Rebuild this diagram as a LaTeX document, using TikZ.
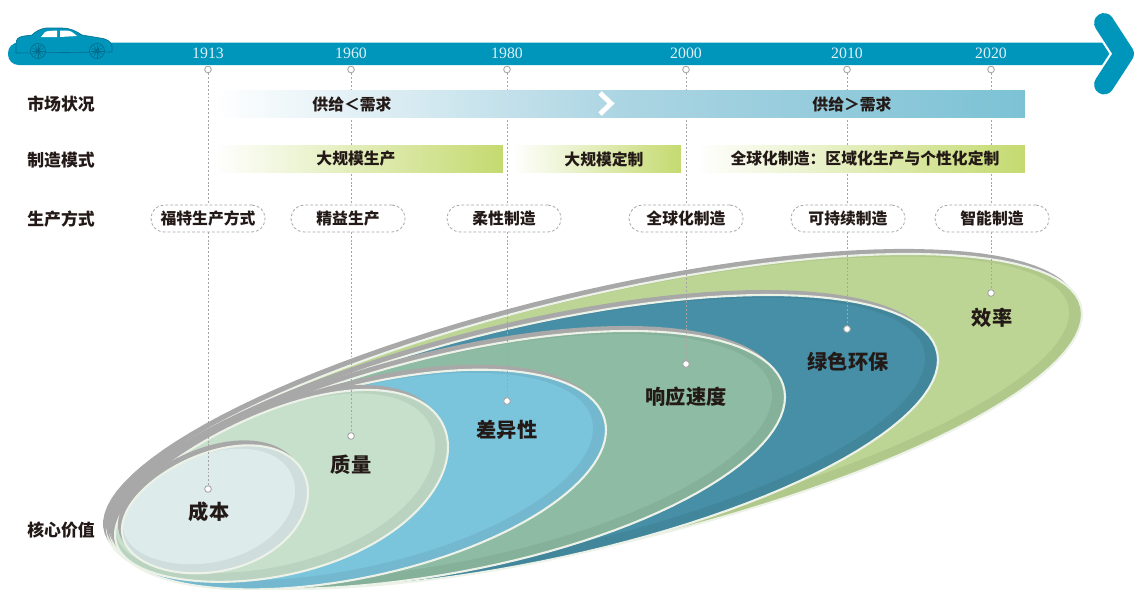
\documentclass[tikz,border=0pt]{standalone}
\usepackage{fontspec}
\setmainfont{Liberation Serif}
\newfontfamily\cjk{Noto Sans CJK SC}
\usetikzlibrary{positioning}

\definecolor{barblue}{RGB}{0,150,188}
\definecolor{cardark}{RGB}{0,110,142}
\definecolor{yeartext}{RGB}{222,240,246}
\definecolor{ink}{RGB}{35,25,22}
\definecolor{mktmid}{RGB}{172,213,227}
\definecolor{mktright}{RGB}{124,194,213}
\definecolor{mfggreen}{RGB}{196,218,112}
\definecolor{guidegray}{RGB}{165,165,165}
\definecolor{rimgray}{RGB}{168,168,168}
\definecolor{rimwhite}{RGB}{236,242,232}
\definecolor{effgreen}{RGB}{188,213,148}
\definecolor{ecoteal}{RGB}{70,143,166}
\definecolor{speedsage}{RGB}{142,187,163}
\definecolor{diffblue}{RGB}{122,196,220}
\definecolor{qualgreen}{RGB}{198,224,204}
\definecolor{costgray}{RGB}{221,235,235}

\begin{document}
\begin{tikzpicture}[x=0.02cm, y=-0.02cm,
  rowlabel/.style={anchor=west, inner sep=0pt, text=ink, font=\cjk\bfseries\fontsize{9.6pt}{11pt}\selectfont},
  bartext/.style={inner sep=0pt, text=ink, font=\cjk\bfseries\fontsize{9pt}{10pt}\selectfont},
  value/.style={inner sep=0pt, text=ink, font=\cjk\bfseries\fontsize{11.5pt}{13pt}\selectfont},
  yearlabel/.style={inner sep=0pt, text=yeartext, font=\fontsize{9pt}{10pt}\selectfont},
  mktbar/.style={minimum width=16.24cm, minimum height=0.54cm, inner sep=0pt,
    left color=white, right color=mktright, middle color=mktmid},
  mfgbar/.style={minimum height=0.54cm, inner sep=0pt, left color=white, right color=mfggreen},
  methodbox/.style={draw=guidegray, dash pattern=on 1.6pt off 1.2pt, line width=0.45pt,
    fill=white, rounded corners=7.5pt, minimum width=2.28cm, minimum height=0.54cm,
    inner sep=0pt, text=ink, font=\cjk\bfseries\fontsize{9pt}{10pt}\selectfont},
  dot/.style={circle, draw=guidegray, fill=white, line width=0.5pt, inner sep=0pt, minimum size=3.8pt},
  guide/.style={draw=guidegray, line width=0.5pt, dash pattern=on 1.1pt off 1.1pt}]
  \useasboundingbox (0,0) rectangle (1138,589);

  % value rings, largest first: centre, half width, half height, tilt, taper
  \foreach \cx/\cy/\w/\h/\s/\k/\col in {
      594.5/421.5/487.5/127.7/0.22/0.013/effgreen,
      524/445/414/119.9/0.2053/0.054/ecoteal,
      448.5/463.5/336.5/110.5/0.1976/0.073/speedsage,
      360.5/481.5/245.5/97/0.2098/0.049/diffblue,
      281.5/491/166.5/85/0.264/0.15/qualgreen,
      215/511/93/61/0.2/0.1/costgray}{
    \fill[rimgray, shift={(-4,-5)}] plot[domain=0:360, samples=120, variable=\t]
      ({\cx+\w*cos(\t)}, {\cy-\s*\w*cos(\t)+\h*sin(\t)*(1+\k*cos(\t))}) -- cycle;
    \fill[\col!94!black] plot[domain=0:360, samples=120, variable=\t]
      ({\cx+\w*cos(\t)}, {\cy-\s*\w*cos(\t)+\h*sin(\t)*(1+\k*cos(\t))}) -- cycle;
    \fill[\col, shift={(-6,-3)}] plot[domain=0:360, samples=120, variable=\t]
      ({\cx+(\w-7)*cos(\t)}, {\cy-\s*(\w-7)*cos(\t)+(\h-6)*sin(\t)*(1+\k*cos(\t))}) -- cycle;
    \draw[rimwhite, line width=1.2pt] plot[domain=0:360, samples=120, variable=\t]
      ({\cx+\w*cos(\t)}, {\cy-\s*\w*cos(\t)+\h*sin(\t)*(1+\k*cos(\t))}) -- cycle;
  }

  % guides from the time line down to the rings
  \foreach \yr/\px/\vy in {1913/208/489, 1960/351/436, 1980/507/401,
                           2000/686/364, 2010/847/329, 2020/991/293}{
    \coordinate (top\yr) at (\px,69.5);
    \coordinate (val\yr) at (\px,\vy);
    \draw[guide] (top\yr) -- (val\yr);
  }

  % time line
  \fill[barblue, rounded corners=6pt] (8,42.5) rectangle (1118,65);
  \coordinate (c1) at (1104,23);
  \coordinate (c2) at (1124,53.75);
  \coordinate (c3) at (1104,84.5);
  \draw[white, line width=13.8pt, line cap=round, line join=round] (c1) -- (c2) -- (c3);
  \draw[barblue, line width=11.3pt, line cap=round, line join=round] (c1) -- (c2) -- (c3);

  % car
  \filldraw[fill=barblue, draw=cardark, line width=0.35pt]
    (16,53) -- (16,44) .. controls (16,39) and (18,37) .. (24,36)
    -- (32,35) .. controls (36,31) and (40,29) .. (46,28)
    -- (62,28) .. controls (70,28) and (76,31) .. (82,35)
    -- (100,38) .. controls (108,39) and (111,42) .. (112,46)
    -- (112,52) -- cycle;
  \fill[white] (41,37) -- (45,32) .. controls (47,31) .. (57,30.5) -- (57,37) -- cycle;
  \fill[white] (60,30.5) -- (66,30.5) .. controls (71,31) .. (77,36) -- (60,37) -- cycle;
  \foreach \wx in {38,97}{
    \filldraw[fill=barblue, draw=cardark, line width=0.4pt] (\wx,51) circle[radius=7.5];
    \foreach \a in {0,30,...,330}
      \draw[cardark, line width=0.3pt] (\wx,51) -- ++(\a:6.5);
    \draw[cardark, line width=0.4pt] (\wx,51) circle[radius=2];
  }

  \foreach \yr/\px in {1913/208, 1960/351, 1980/507, 2000/686, 2010/847, 2020/991}
    \node[yearlabel] (y\yr) at (\px,53.5) {\yr};

  % row titles
  \node[rowlabel] (market) at (27,104) {市场状况};
  \node[rowlabel] (mode) at (27,160) {制造模式};
  \node[rowlabel] (method) at (27,219) {生产方式};
  \node[rowlabel] (core) at (27,530) {核心价值};

  % market situation
  \node[mktbar] (supply) at (619,103.5) {};
  \draw[white, line width=2.8pt] (600,93) -- (611,103.5) -- (600,114);
  \node[bartext] (less) at (352,104) {供给＜需求};
  \node[bartext] (more) at (852,104) {供给＞需求};

  % manufacturing modes
  \node[mfgbar, minimum width=5.8cm] (mass) at (358,158.75) {};
  \node[mfgbar, minimum width=3.36cm] (custom) at (597,158.75) {};
  \node[mfgbar, minimum width=6.6cm] (glocal) at (860,158.75) {};
  \node[bartext] at (356,159) {大规模生产};
  \node[bartext] at (604,159) {大规模定制};
  \node[bartext] at (865,159) {全球化制造：区域化生产与个性化定制};

  % production methods
  \foreach \px/\name/\txt in {208/ford/福特生产方式, 348/lean/精益生产, 504/flex/柔性制造,
                              686/global/全球化制造, 848/green/可持续制造, 992/smart/智能制造}
    \node[methodbox] (\name) at (\px,218.5) {\txt};

  % markers
  \foreach \yr in {1913,1960,1980,2000,2010,2020}{
    \node[dot] at (top\yr) {};
    \node[dot] at (val\yr) {};
  }

  % core values
  \foreach \yr/\px/\ly/\txt in {1913/209/512/成本, 1960/351/465/质量, 1980/507/430/差异性,
                                2000/686/397/响应速度, 2010/848/362/绿色环保, 2020/992/318/效率}
    \node[value] (v\yr) at (\px,\ly) {\txt};
\end{tikzpicture}
\end{document}
